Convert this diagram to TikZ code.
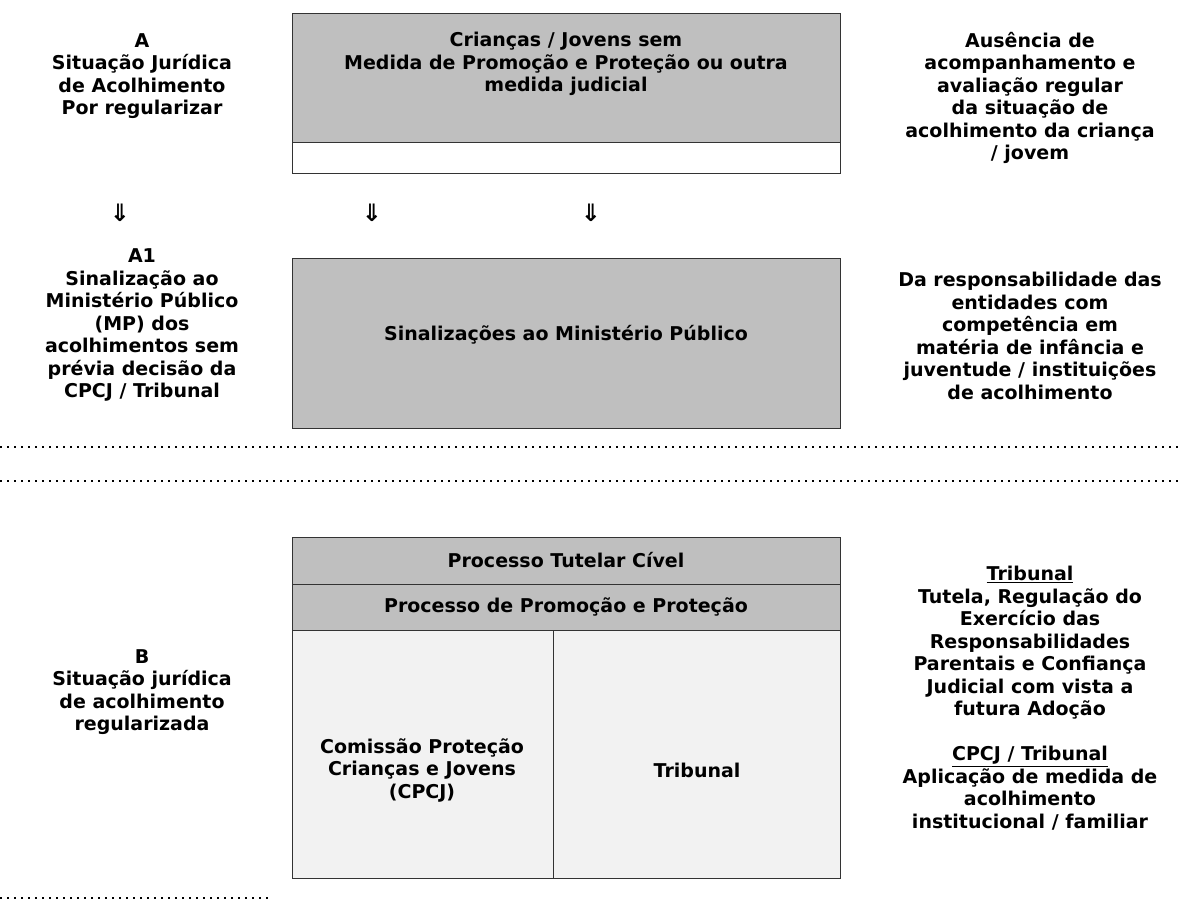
\documentclass[tikz,border=0pt]{standalone}
\usepackage{fontspec}
\setmainfont{DejaVu Sans}
\newfontfamily\arrowfont{DejaVu Sans}
\begin{document}
\begin{tikzpicture}[x=1pt,y=-1pt,
  txt/.style={align=center,font=\fontsize{19}{22.5}\selectfont\bfseries,inner sep=0pt},
  graybox/.style={draw=black!80,line width=0.6pt,fill=black!25},
  whitebox/.style={draw=black!80,line width=0.6pt,fill=white},
  lightbox/.style={draw=black!80,line width=0.6pt,fill=black!5},
  sep/.style={black,line width=1.6pt,dash pattern=on 1.6pt off 5.4pt},
  arr/.style={font=\fontsize{24}{24}\selectfont\bfseries\arrowfont,inner sep=0pt}]
\useasboundingbox (0,0) rectangle (1178,911);
% top box
\path[graybox] (292,13) rectangle (840,142);
\path[whitebox] (292,142) rectangle (840,173);
\node[txt] (toptext) at (566,64) {Crianças / Jovens sem\\Medida de Promoção e Proteção ou outra\\medida judicial};
\node[txt] (A) at (142,76) {A\\Situação Jurídica\\de Acolhimento\\Por regularizar};
\node[txt] (Aright) at (1030,98) {Ausência de\\acompanhamento e\\avaliação regular\\da situação de\\acolhimento da criança\\/ jovem};
% arrows
\node[arr] (ar1) at (120,213) {⇓};
\node[arr] (ar2) at (372,213) {⇓};
\node[arr] (ar3) at (591,213) {⇓};
% middle box
\node[graybox,minimum width=548pt,minimum height=170pt,inner sep=0pt] (mid) at (566,343) {};
\node[txt] (midtext) at (566,335) {Sinalizações ao Ministério Público};
\node[txt] (A1) at (142,325) {A1\\Sinalização ao\\Ministério Público\\(MP) dos\\acolhimentos sem\\prévia decisão da\\CPCJ / Tribunal};
\node[txt] (A1right) at (1030,336) {Da responsabilidade das\\entidades com\\competência em\\matéria de infância e\\juventude / instituições\\de acolhimento};
% separators
\coordinate (s1l) at (0,447); \coordinate (s1r) at (1178,447);
\coordinate (s2l) at (0,481); \coordinate (s2r) at (1178,481);
\coordinate (s3l) at (0,898); \coordinate (s3r) at (272,898);
\draw[sep] (s1l) -- (s1r);
\draw[sep] (s2l) -- (s2r);
\draw[sep] (s3l) -- (s3r);
% bottom box
\path[graybox] (292,537) rectangle (840,584);
\path[graybox] (292,584) rectangle (840,630);
\path[lightbox] (292,630) rectangle (553,878);
\path[lightbox] (553,630) rectangle (840,878);
\node[txt] (ptc) at (566,560) {Processo Tutelar Cível};
\node[txt] (ppp) at (566,607) {Processo de Promoção e Proteção};
\node[txt] (cpcj) at (422,770) {Comissão Proteção\\Crianças e Jovens\\(CPCJ)};
\node[txt] (trib) at (697,770) {Tribunal};
\node[txt] (B) at (142,692) {B\\Situação jurídica\\de acolhimento\\regularizada};
\node[txt] (Bright) at (1030,698) {\underline{Tribunal}\\Tutela, Regulação do\\Exercício das\\Responsabilidades\\Parentais e Confiança\\Judicial com vista a\\futura Adoção\\[22.5pt]\underline{CPCJ / Tribunal}\\Aplicação de medida de\\acolhimento\\institucional / familiar};
\end{tikzpicture}
\end{document}
